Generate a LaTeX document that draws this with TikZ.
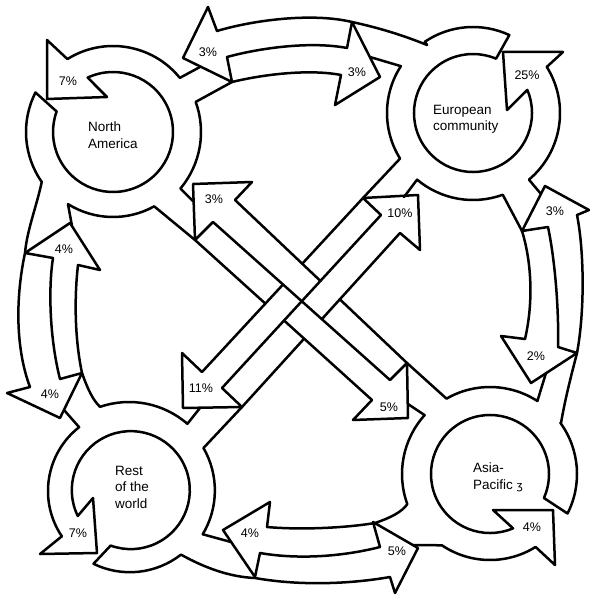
\documentclass[tikz,border=0pt]{standalone}
\usepackage{fontspec}
\setmainfont{Liberation Sans}
\newfontfamily\dejavu{DejaVu Sans}
\usetikzlibrary{calc}
\begin{document}
\begin{tikzpicture}[x=1pt,y=-1pt,
  ln/.style={line width=2.5pt,line join=round,line cap=round},
  pct/.style={font=\fontsize{12.5}{14}\selectfont,inner sep=0pt},
  nm/.style={font=\fontsize{13.5}{16.5}\selectfont,inner sep=0pt,align=left,anchor=north west}]
\useasboundingbox (0,0) rectangle (589,596);
\coordinate (NAc) at (113,132);
\coordinate (ECc) at (473,113);
\coordinate (RWc) at (129,491);
\coordinate (APc) at (490,474);
% ---------- North America ----------
\draw[ln] ([shift={(238:86)}]NAc) -- (47,40) -- (47,99) -- (107,97) -- ([shift={(245:60)}]NAc)
   arc[start angle=245,end angle=560,radius=60] -- ([shift={(207:87)}]NAc)
   arc[start angle=207,end angle=145,radius=87]
   .. controls (37,205) and (27,230) .. (25,253)
   .. controls (15,300) and (16,350) .. (30,387);
\draw[ln] ([shift={(238:86)}]NAc) arc[start angle=238,end angle=321,radius=86] -- (200,67);
\draw[ln] (232,82) -- ([shift={(-20:88)}]NAc) arc[start angle=-20,end angle=40,radius=88] -- (193,201);
\draw[ln] (195,240) -- ([shift={(61:85)}]NAc) arc[start angle=61,end angle=122,radius=85] -- (72,226);
% ---------- top band ----------
\draw[ln] (217,31) -- (208,7) -- (183,58) -- (232,82) -- (227,57);
\draw[ln] (217,31) .. controls (250,21) and (310,12) .. (352,22) .. controls (380,28) and (405,36) .. (427,45);
\draw[ln] (227,57) .. controls (260,48) and (310,41) .. (347,48);
\draw[ln] (232,82) .. controls (265,74) and (310,69) .. (341,75);
\draw[ln] (347,48) -- (352,22) -- (380,77) -- (335,105) -- (341,75);
% ---------- European community ----------
\draw[ln] ([shift={(-32:87)}]ECc) -- (563,52) -- (503,52) -- (507,110) -- ([shift={(337:59)}]ECc)
   arc[start angle=337,end angle=653,radius=59] -- ([shift={(295:86)}]ECc)
   arc[start angle=295,end angle=236,radius=86] -- (427,45);
\draw[ln] ([shift={(-32:87)}]ECc) arc[start angle=-32,end angle=50,radius=87] -- (541,194);
\draw[ln] (522,231) -- ([shift={(70:87)}]ECc) arc[start angle=70,end angle=130,radius=87] -- (404,197);
\draw[ln] (370,57) -- ([shift={(213:86)}]ECc) arc[start angle=213,end angle=148,radius=86] -- (363,198);
% ---------- right band ----------
\draw[ln] (577,215) -- (589,210) -- (545,186) -- (522,231) -- (548,227);
\draw[ln] (522,231) .. controls (531,260) and (534,300) .. (525,339);
\draw[ln] (548,227) .. controls (555,260) and (559,310) .. (558,347);
\draw[ln] (577,215) .. controls (584,250) and (585,310) .. (577,353);
\draw[ln] (525,339) -- (501,336) -- (531,383) -- (577,353) -- (558,347);
\draw[ln] (577,353) .. controls (570,380) and (565,400) .. (561,423);
% ---------- Asia-Pacific ----------
\draw[ln] ([shift={(58:86)}]APc) -- (555,565) -- (553,510) -- (493,510) -- ([shift={(67:59)}]APc)
   arc[start angle=67,end angle=384,radius=59] -- ([shift={(27:87)}]APc)
   arc[start angle=27,end angle=-36,radius=87] -- (561,423);
\draw[ln] ([shift={(58:86)}]APc) arc[start angle=58,end angle=124,radius=86] -- (413,545);
\draw[ln] (375,523) .. controls (390,518) and (402,512) .. ([shift={(160:88)}]APc)
   arc[start angle=160,end angle=222,radius=88] -- (408,404);
\draw[ln] (407,363) -- ([shift={(240:87)}]APc) arc[start angle=240,end angle=303,radius=87] -- (546,373);
% ---------- bottom band ----------
\draw[ln] (267,527) -- (270,502) -- (223,530) -- (255,577) -- (260,553);
\draw[ln] (267,527) .. controls (300,530) and (345,528) .. (375,523);
\draw[ln] (260,553) .. controls (300,560) and (345,556) .. (380,547);
\draw[ln] (390,577) -- (395,593) -- (418,548) -- (373,522) -- (380,547);
% ---------- Rest of the world ----------
\draw[ln] ([shift={(146:81)}]RWc) -- (40,554) -- (97,553) -- (93,498) -- ([shift={(154:57)}]RWc)
   arc[start angle=154,end angle=470,radius=59] -- ([shift={(116:81)}]RWc)
   arc[start angle=116,end angle=52,radius=83]
   .. controls (205,568) and (230,577) .. (255,578)
   .. controls (300,586) and (350,584) .. (390,577);
\draw[ln] ([shift={(146:81)}]RWc) arc[start angle=146,end angle=232,radius=81] -- (64,410);
\draw[ln] (82,373) .. controls (88,390) and (93,400) .. ([shift={(251:89)}]RWc)
   arc[start angle=251,end angle=311,radius=89] -- (200,408);
\draw[ln] (242,407) -- ([shift={(-30:86)}]RWc) arc[start angle=-30,end angle=31,radius=85] -- (231,542);
% ---------- left band ----------
\draw[ln] (78,265) -- (100,270) -- (70,223) -- (25,253) -- (53,258);
\draw[ln] (53,258) .. controls (48,290) and (50,340) .. (60,379);
\draw[ln] (78,265) .. controls (74,300) and (75,340) .. (82,373);
\draw[ln] (30,387) -- (7,393) -- (60,418) -- (82,373) -- (60,379);
% ---------- diagonals ----------
\coordinate (a1) at (235,200); \coordinate (a2) at (407,363);
\coordinate (m1) at (213,222); \coordinate (m2) at (390,380);
\coordinate (b1) at (195,240); \coordinate (b2) at (372,400);
\coordinate (c1) at (363,198); \coordinate (c2) at (202,372);
\coordinate (n1) at (381,215); \coordinate (n2) at (222,388);
\coordinate (d1) at (400,233); \coordinate (d2) at (242,407);
\coordinate (T) at (intersection of a1--a2 and c1--c2);
\coordinate (R) at (intersection of a1--a2 and d1--d2);
\coordinate (L) at (intersection of b1--b2 and c1--c2);
\coordinate (B) at (intersection of b1--b2 and d1--d2);
\coordinate (URM) at (intersection of a1--a2 and n1--n2);
\coordinate (ULM) at (intersection of c1--c2 and m1--m2);
\coordinate (LLM) at (intersection of b1--b2 and n1--n2);
\coordinate (LRM) at (intersection of d1--d2 and m1--m2);
\draw[ln] (235,200) -- (252,182) -- (193,184) -- (195,240) -- (213,222);
\draw[ln] (372,400) -- (353,420) -- (408,418) -- (407,363) -- (390,380);
\draw[ln] (400,233) -- (420,250) -- (418,195) -- (363,198) -- (381,215);
\draw[ln] (202,372) -- (182,353) -- (183,408) -- (242,407) -- (222,388);
\draw[ln] (a1) -- (URM); \draw[ln] (R) -- (a2);
\draw[ln] (c1) -- (T);   \draw[ln] (ULM) -- (c2);
\draw[ln] (b1) -- (L);   \draw[ln] (LLM) -- (b2);
\draw[ln] (d1) -- (LRM); \draw[ln] (B) -- (d2);
\draw[ln] (m1) -- (m2);  \draw[ln] (n1) -- (n2);
% ---------- texts ----------
\node[nm] (tNA) at (88,122) {North\\America};
\node[nm] (tEC) at (433,105) {European\\community};
\node[nm] (tRW) at (115,466) {Rest\\of the\\world};
\node[nm] (tAP) at (473,463) {Asia-\\Pacific {\dejavu\fontsize{11}{12}\selectfont ʒ}};
\node[pct] (p1) at (68,81) {7\%};
\node[pct] (p2) at (208,52) {3\%};
\node[pct] (p3) at (357,72) {3\%};
\node[pct] (p4) at (527,75) {25\%};
\node[pct] (p5) at (214,199) {3\%};
\node[pct] (p6) at (400,213) {10\%};
\node[pct] (p7) at (201,388) {11\%};
\node[pct] (p8) at (389,407) {5\%};
\node[pct] (p9) at (64,249) {4\%};
\node[pct] (p10) at (50,394) {4\%};
\node[pct] (p11) at (555,211) {3\%};
\node[pct] (p12) at (536,356) {2\%};
\node[pct] (p13) at (250,533) {4\%};
\node[pct] (p14) at (397,551) {5\%};
\node[pct] (p15) at (78,533) {7\%};
\node[pct] (p16) at (532,527) {4\%};
\end{tikzpicture}
\end{document}
